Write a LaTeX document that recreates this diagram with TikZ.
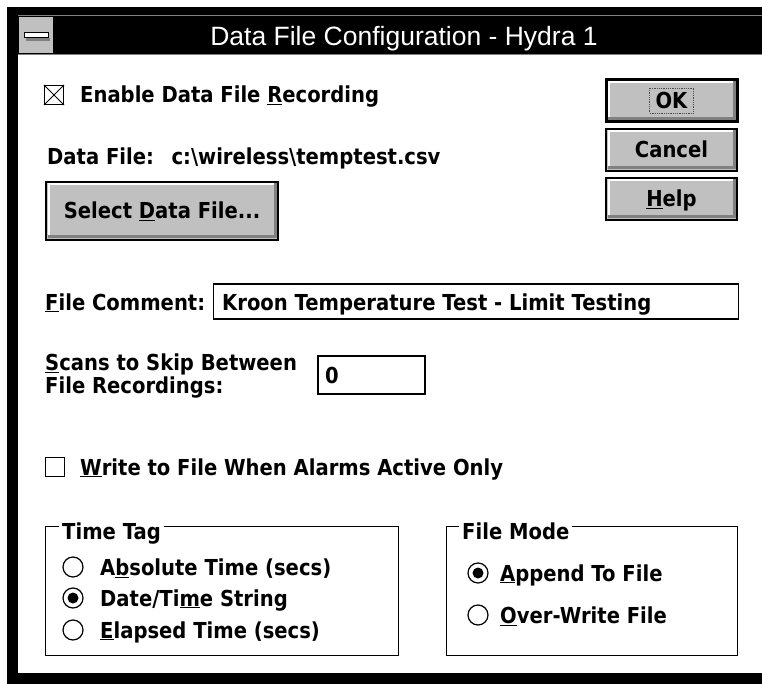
\documentclass[tikz,border=0pt]{standalone}
\usepackage{fontspec}
\setmainfont{DejaVu Sans}
\newfontfamily\uifont{DejaVu Sans}[FakeStretch=0.89]
\newfontfamily\titlefont{Liberation Sans}
\definecolor{btngray}{HTML}{C0C0C0}
\definecolor{btndark}{HTML}{808080}
\newcommand\winbtn[6]{%
  \node[btnface, minimum width=#4pt, minimum height=#5pt] (#1) at (#2,#3) {};
  \fill[white] ([shift={(1.5,1.5)}]#1.north west) rectangle ([shift={(-1.5,3.5)}]#1.north east);
  \fill[white] ([shift={(1.5,1.5)}]#1.north west) rectangle ([shift={(3.5,-1.5)}]#1.south west);
  \fill[btndark] ([shift={(1.5,-4.5)}]#1.south west) rectangle ([shift={(-1.5,-1.5)}]#1.south east);
  \fill[btndark] ([shift={(-4.5,1.5)}]#1.north east) rectangle ([shift={(-1.5,-1.5)}]#1.south east);
  \draw[line width=1.5pt] (#1.north west) rectangle (#1.south east);
  \node[ctr] (#1-t) at (#1.center) {#6};
}
\begin{document}
\begin{tikzpicture}[x=1pt,y=-1pt,
  ui/.style={font=\uifont\fontsize{22}{24}\selectfont\bfseries, inner sep=0pt, text height=16pt, text depth=0pt},
  lbl/.style={ui, anchor=west},
  ctr/.style={ui, anchor=center},
  btnface/.style={fill=btngray, inner sep=0pt, outer sep=0pt},
  field/.style={draw=black, line width=1.3pt, fill=white, inner sep=0pt},
  grp/.style={draw=black, line width=1pt},
  radio/.style={circle, draw=black, line width=1.2pt, fill=white, minimum size=20pt, inner sep=0pt},
  chk/.style={draw=black, line width=1.2pt, fill=white, minimum size=19pt, inner sep=0pt},
  grplbl/.style={ui, anchor=west, fill=white, inner xsep=3pt},
]
\useasboundingbox (0,0) rectangle (762,684);
\fill[white] (0,0) rectangle (762,684);
% window frame and title bar
\fill[black] (7,7) rectangle (762,684);
\draw[btndark, line width=1pt] (18,15.5) -- (762,15.5);
\fill[white] (18,55) rectangle (762,673);
\draw[btndark, line width=1pt] (18,54.5) -- (762,54.5);
\node[fill=btngray, minimum width=34pt, minimum height=36pt, inner sep=0pt] (sysmenu) at (36,35) {};
\fill[btndark] ([shift={(-10,3)}]sysmenu.center) rectangle ([shift={(14,6)}]sysmenu.center);
\node[draw=black, fill=white, line width=1pt, minimum width=24pt, minimum height=5pt, inner sep=0pt] (sysbar) at (sysmenu.center) {};
\node[font=\titlefont\fontsize{26.5}{30}\selectfont, text=white, inner sep=0pt, text height=19pt, text depth=0pt] (title) at (404,36.5) {Data File Configuration - Hydra 1};
% enable checkbox
\node[chk] (chkEnable) at (54,95) {};
\draw[line width=0.8pt] (chkEnable.north west) -- (chkEnable.south east) (chkEnable.north east) -- (chkEnable.south west);
\node[lbl] (lblEnable) at (80,95) {Enable Data File \underline{R}ecording};
% buttons
\winbtn{ok}{671.5}{100.5}{131}{42}{OK}
\draw[line width=3pt] (ok.north west) rectangle (ok.south east);
\draw[densely dotted, line width=0.8pt, black!70] ([shift={(-22,-12.5)}]ok.center) rectangle ([shift={(22,12.5)}]ok.center);
\winbtn{cancel}{671.5}{150}{131}{42}{Cancel}
\winbtn{help}{671.5}{199}{131}{42}{\underline{H}elp}
% data file
\node[lbl] (lblData) at (47,157) {Data File:\hspace{0.8em}c:\textbackslash wireless\textbackslash temptest.csv};
\winbtn{sel}{162}{211}{232}{58}{Select \underline{D}ata File...}
% file comment
\node[lbl] (lblComment) at (45,302) {\underline{F}ile Comment:};
\node[field, minimum width=525pt, minimum height=35pt, anchor=west] (txtComment) at (213,301.5) {};
\node[lbl] (txtCommentV) at (222,302) {Kroon Temperature Test - Limit Testing};
% scans
\node[lbl] (lblScans1) at (45,362) {\underline{S}cans to Skip Between};
\node[lbl] (lblScans2) at (45,385) {File Recordings:};
\node[field, minimum width=107pt, minimum height=38pt] (txtSkip) at (371.5,375) {};
\node[lbl] (txtSkipV) at (325,375) {0};
% write checkbox
\node[chk] (chkWrite) at (55,467) {};
\node[lbl] (lblWrite) at (80,467) {\underline{W}rite to File When Alarms Active Only};
% time tag group
\node[grp, minimum width=353pt, minimum height=129pt, anchor=north west, inner sep=0pt] (grpTime) at (45,526) {};
\node[grplbl] (lblTime) at (59,531) {Time Tag};
\node[radio] (rAbs) at (73,567) {};
\node[lbl] (lAbs) at (100,567) {A\underline{b}solute Time (secs)};
\node[radio] (rDate) at (73,598) {};
\fill (rDate.center) circle (5.5);
\node[lbl] (lDate) at (100,598) {Date/Ti\underline{m}e String};
\node[radio] (rEl) at (73,630) {};
\node[lbl] (lEl) at (100,630) {\underline{E}lapsed Time (secs)};
% file mode group
\node[grp, minimum width=291pt, minimum height=129pt, anchor=north west, inner sep=0pt] (grpMode) at (446,526) {};
\node[grplbl] (lblMode) at (459,531) {File Mode};
\node[radio] (rApp) at (478,573) {};
\fill (rApp.center) circle (5.5);
\node[lbl] (lApp) at (500,573) {\underline{A}ppend To File};
\node[radio] (rOver) at (478,615) {};
\node[lbl] (lOver) at (500,615) {\underline{O}ver-Write File};
\end{tikzpicture}
\end{document}
